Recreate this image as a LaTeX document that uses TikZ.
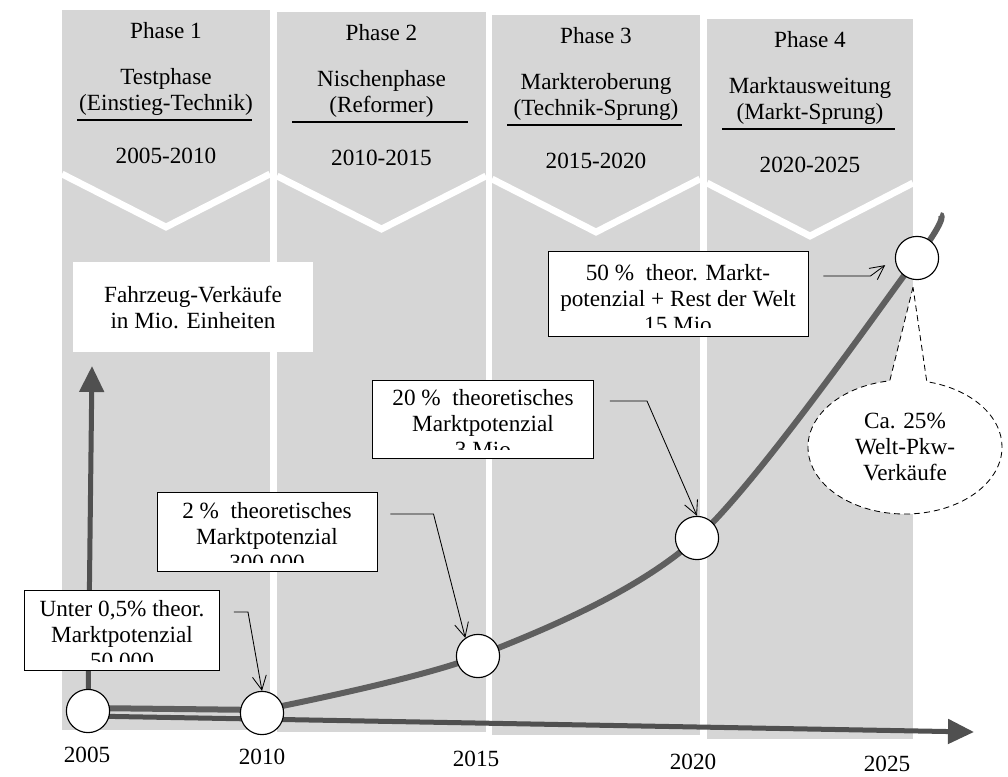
\documentclass[tikz,border=0pt]{standalone}
\usepackage{fontspec}
\setmainfont{Liberation Serif}
\usetikzlibrary{calc,arrows.meta,shapes.callouts}
\definecolor{colbg}{RGB}{214,214,214}
\definecolor{curvegray}{RGB}{95,95,95}
\definecolor{axisgray}{RGB}{80,80,80}
\tikzset{
  chevron/.style={draw=white, line width=0.17cm},
  rule/.style={draw=black, line width=0.8pt},
  unitbox/.style={fill=white, align=center, minimum width=6cm, minimum height=2.225cm},
  infobox/.style={draw=black, fill=white, line width=0.7pt, inner sep=0pt},
  boxtext/.style={align=center, inner sep=0pt},
  marker/.style={circle, draw=black, fill=white, line width=0.8pt, minimum size=1.08cm, inner sep=0pt},
  salescurve/.style={draw=curvegray, line width=0.15cm},
  axisline/.style={draw=axisgray, line width=0.125cm, -{Triangle[length=0.65cm,width=0.6cm]}},
  callarrow/.style={line width=0.6pt, -{Straight Barb[length=3.5mm,width=3.5mm]}},
  salesnote/.style={ellipse callout, draw=black, fill=white, dash pattern=on 1.5mm off 1mm,
    line width=0.6pt, align=center, minimum width=4.85cm, minimum height=3.35cm,
    inner sep=0pt, callout pointer arc=22}
}
\begin{document}
\begin{tikzpicture}[x=0.025cm, y=-0.025cm, font=\fontsize{16.5}{18.5}\selectfont]
  \useasboundingbox (0,0) rectangle (1008,777);
  \foreach \k/\xa/\xb/\t/\na/\nb/\yr in {
      1/62/270/10/{Testphase}/{(Einstieg-Technik)}/{2005-2010},
      2/277/486/12/{Nischenphase}/{(Reformer)}/{2010-2015},
      3/492/700/15/{Markteroberung}/{(Technik-Sprung)}/{2015-2020},
      4/707/913/19/{Marktausweitung}/{(Markt-Sprung)}/{2020-2025}}
  {
    \fill[colbg] (\xa,\t) rectangle (\xb,\t+720);
    \draw[chevron] (\xa,\t+164) -- ({(\xa+\xb)/2},\t+217) -- (\xb,\t+164);
    \node (ph\k) at ({(\xa+\xb)/2},\t+21) {Phase \k};
    \node[align=center] (nm\k) at ({(\xa+\xb)/2},\t+82) {\na\\\nb};
    \draw[rule] (\xa+15,\t+110) -- (\xb-18,\t+110);
    \node (yr\k) at ({(\xa+\xb)/2},\t+146) {\yr};
  }
  \node[unitbox] (unit) at (193,307) {Fahrzeug-Verkäufe\\in Mio. Einheiten};
  \coordinate (p05) at (88,711);
  \coordinate (p10) at (262,713);
  \coordinate (p15) at (478,656);
  \coordinate (p20) at (697,538);
  \coordinate (p25) at (917,258);
  \coordinate (ctop) at (940,215);
  \coordinate (ytip) at (92,366);
  \coordinate (xtip) at (974,732);
  \draw[axisline] (p05) -- (ytip);
  \draw[axisline] ($(p05)+(0,5)$) -- (xtip);
  \draw[salescurve] ($(p05)+(0,-3)$) -- plot[smooth, tension=0.5] coordinates {
    ($(p10)+(0,-3)$) (p15) (p20) (p25) (ctop)};
  \foreach \c in {05,10,15,20,25}
    \node[marker] (c\c) at (p\c) {};
  \foreach \nm/\cx/\cy/\w/\h/\txt in {
      b05/122/630/195/80/{Unter 0,5\% theor.\\Marktpotenzial\\50 000},
      b10/267/532/220/79/{2 \%\ \ theoretisches\\Marktpotenzial\\300 000},
      b15/483/419/221/78/{20 \%\ \ theoretisches\\Marktpotenzial\\3 Mio},
      b20/678/294/260/85/{50 \%\ \ theor. Markt-\\potenzial + Rest der Welt\\15 Mio}}
  {
    \node[infobox, minimum width=\w*0.025cm, minimum height=\h*0.025cm] (\nm) at (\cx,\cy) {};
    \begin{scope}
      \clip ($(\nm.south west)+(2,-9)$) rectangle ($(\nm.north east)+(-2,2)$);
      \node[boxtext] at ($(\nm.center)+(0,5)$) {\txt};
    \end{scope}
  }
  \draw[callarrow] ($(b05.east)+(14,-18)$) -- ++(14,0) -- (c10.north);
  \draw[callarrow] ($(b10.east)+(13,-18)$) -- ++(43,0) -- (c15.125);
  \draw[callarrow] ($(b15.east)+(16,-18)$) -- ++(37,0) -- (c20.north);
  \draw[callarrow, shorten >=0.3cm] ($(b20.east)+(15,-18)$) -- ++(47,0) -- (c25.west);
  \node[salesnote, callout absolute pointer={($(c25.south)+(-4,7)$)}] (share) at (905,447)
    {Ca. 25\%\\Welt-Pkw-\\Verkäufe};
  \node (y05) at (87,755) {2005};
  \node (y10) at (262,757) {2010};
  \node (y15) at (476,759) {2015};
  \node (y20) at (693,762) {2020};
  \node (y25) at (887,764) {2025};
\end{tikzpicture}
\end{document}
